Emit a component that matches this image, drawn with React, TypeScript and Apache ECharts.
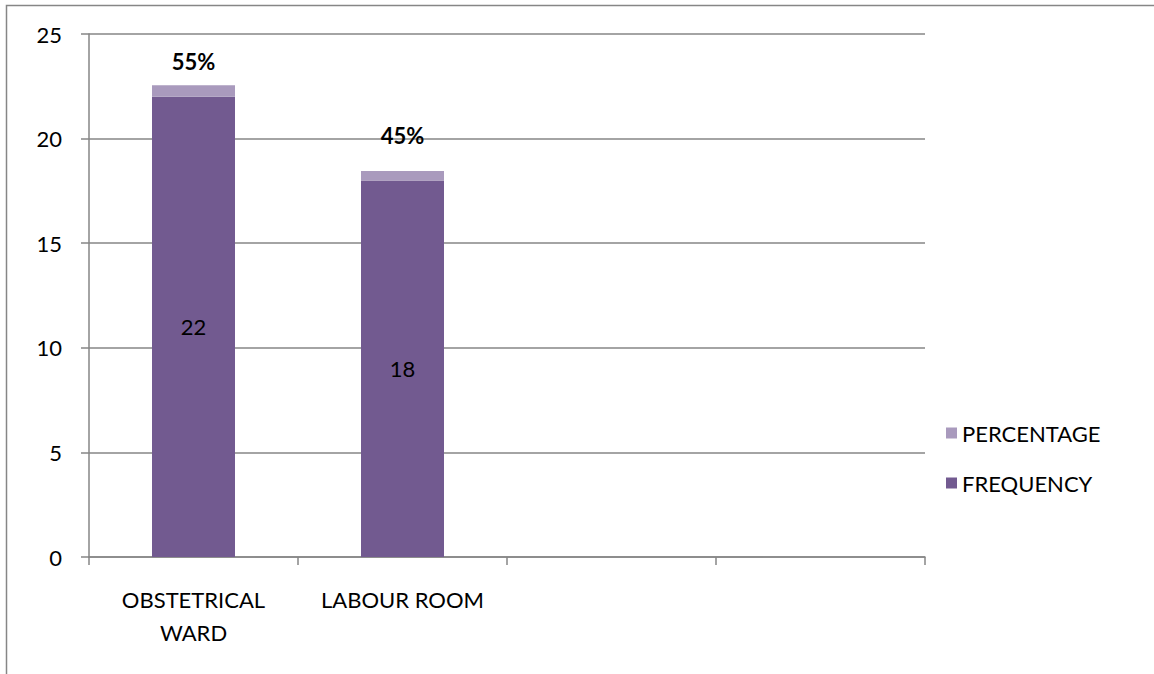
import React, { useEffect, useRef } from "react";
import * as echarts from "echarts";

const categories = ["OBSTETRICAL\nWARD", "LABOUR ROOM", "", ""];
const frequency = [22, 18, null, null];
const percentage = [0.55, 0.45, null, null];
const pctLabelDistance = [13, 25];
const yTicks = { min: 0, max: 25, interval: 5 };

const FONT = "Lato";
const FS = 22;
const AXIS_GRAY = "#868686";

export default function App() {
  const ref = useRef<HTMLDivElement>(null);
  useEffect(() => {
    if (!ref.current) return;
    const chart = echarts.init(ref.current, null, { renderer: "svg" });
    chart.setOption({
      animation: false,
      backgroundColor: "#ffffff",
      textStyle: { fontFamily: FONT },
      graphic: [
        {
          type: "rect",
          shape: { x: 6.5, y: 5.5, width: 1300, height: 800 },
          style: { fill: "none", stroke: AXIS_GRAY, lineWidth: 1.5 },
          silent: true,
          z: -1,
        },
      ],
      legend: {
        orient: "vertical",
        left: 941,
        top: 417,
        itemWidth: 11,
        itemHeight: 11,
        itemGap: 28,
        icon: "rect",
        data: ["PERCENTAGE", "FREQUENCY"],
        textStyle: { fontFamily: FONT, fontSize: FS, color: "#000", lineHeight: 22 },
      },
      grid: { left: 89, top: 34, right: 229, bottom: 117, containLabel: false },
      xAxis: {
        type: "category",
        data: categories,
        axisLine: { lineStyle: { color: AXIS_GRAY, width: 1.5 } },
        axisTick: { show: true, length: 8, alignWithLabel: false, lineStyle: { color: AXIS_GRAY, width: 1.5 } },
        axisLabel: { fontFamily: FONT, fontSize: FS, color: "#000", margin: 26, lineHeight: 33, interval: 0 },
      },
      yAxis: {
        type: "value",
        min: yTicks.min,
        max: yTicks.max,
        interval: yTicks.interval,
        axisLine: { show: true, lineStyle: { color: AXIS_GRAY, width: 1.5 } },
        axisTick: { show: true, length: 8, lineStyle: { color: AXIS_GRAY, width: 1.5 } },
        splitLine: { show: true, lineStyle: { color: AXIS_GRAY, width: 1.5 } },
        axisLabel: { fontFamily: FONT, fontSize: FS, color: "#000", margin: 27 },
      },
      series: [
        {
          name: "FREQUENCY",
          type: "bar",
          stack: "total",
          barWidth: 83,
          itemStyle: { color: "#725A90" },
          label: {
            show: true,
            position: "inside",
            color: "#000",
            fontFamily: FONT,
            fontSize: FS,
          },
          data: frequency,
        },
        {
          name: "PERCENTAGE",
          type: "bar",
          stack: "total",
          barWidth: 83,
          itemStyle: { color: "#A99ABD" },
          data: percentage.map((v, i) =>
            v == null
              ? null
              : {
                  value: v,
                  label: {
                    show: true,
                    position: "top",
                    distance: pctLabelDistance[i],
                    formatter: () => `${Math.round(v * 100)}%`,
                    color: "#000",
                    fontWeight: "bold",
                    fontFamily: FONT,
                    fontSize: FS,
                  },
                }
          ),
        },
      ],
    });
    return () => chart.dispose();
  }, []);
  return (
    <div
      ref={ref}
      style={{ position: "absolute", left: 0, top: 0, width: 1154, height: 674 }}
    />
  );
}
